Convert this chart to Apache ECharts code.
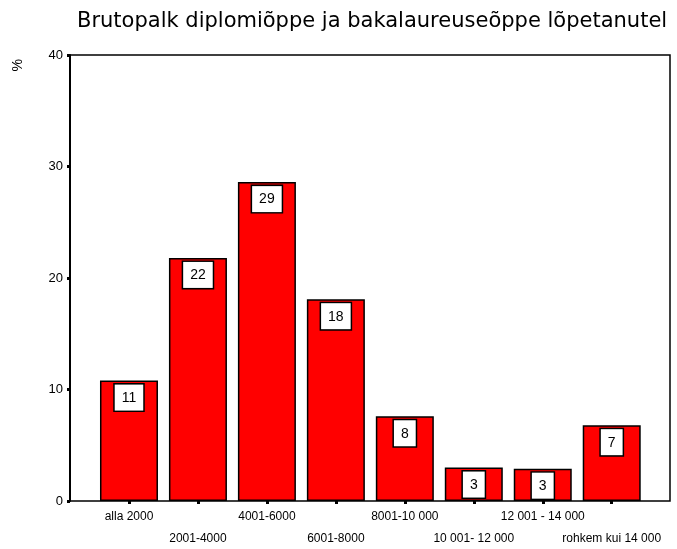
<!DOCTYPE html>
<html>
<head>
<meta charset="utf-8">
<script src="https://cdn.jsdelivr.net/npm/echarts@6/dist/echarts.min.js"></script>
<style>html,body{margin:0;padding:0;background:#fff;}#c{width:677px;height:549px;}</style>
</head>
<body>
<div id="c"></div>
<script>
var titleText = 'Brutopalk diplomiõppe ja bakalaureuseõppe lõpetanutel';
var yName = '%';
var categories = ['alla 2000', '2001-4000', '4001-6000', '6001-8000', '8001-10 000', '10 001- 12 000', '12 001 - 14 000', 'rohkem kui 14 000'];
var values = [10.8, 21.8, 28.6, 18.1, 7.6, 3.0, 2.9, 6.8];
var yTicks = [0, 10, 20, 30, 40];

var chart = echarts.init(document.getElementById('c'), null, {renderer: 'canvas'});
var font = 'Liberation Sans';
chart.setOption({
  animation: false,
  backgroundColor: '#fff',
  title: {
    text: titleText, left: 72, top: 6,
    textStyle: {fontFamily: 'DejaVu Sans', fontSize: 21, fontWeight: 'normal', color: '#000'}
  },
  graphic: [{
    type: 'text', left: 11, top: 59, rotation: Math.PI / 2,
    style: {text: yName, fontFamily: font, fontSize: 14, fill: '#000'}
  }],
  grid: [
    {left: 70, right: 7, top: 55, bottom: 48, show: true, borderColor: '#000', borderWidth: 1.5, backgroundColor: 'transparent', outerBoundsMode: 'none', containLabel: false},
    {left: 94.5, right: 30.8, top: 55, bottom: 48, outerBoundsMode: 'none', containLabel: false}
  ],
  xAxis: [
    {gridIndex: 0, type: 'value', show: false, min: 0, max: 1},
    {gridIndex: 1, type: 'category', data: categories,
     axisLine: {show: false},
     axisTick: {show: true, alignWithLabel: true, length: 3, lineStyle: {color: '#000', width: 3}},
     axisLabel: {interval: 0, margin: 5, fontFamily: font, fontSize: 12, color: '#000', lineHeight: 22,
       formatter: function (v, i) { return i % 2 ? '\n' + v : v; }}
    }
  ],
  yAxis: [
    {gridIndex: 0, type: 'value', min: yTicks[0], max: yTicks[yTicks.length - 1], interval: 10,
     axisLine: {show: true, lineStyle: {color: '#000', width: 2}},
     axisTick: {show: true, length: 3, lineStyle: {color: '#000', width: 3}},
     splitLine: {show: false},
     axisLabel: {margin: 7, fontFamily: font, fontSize: 13, color: '#000'}
    },
    {gridIndex: 1, type: 'value', min: 0, max: 40, show: false, splitLine: {show: false}}
  ],
  series: [{
    type: 'bar', xAxisIndex: 1, yAxisIndex: 1, data: values, barWidth: 58,
    itemStyle: {color: '#ff0000', borderColor: '#000', borderWidth: 1.5},
    label: {show: true, position: 'insideTop', distance: 4,
      formatter: function (p) { return Math.round(p.value); },
      backgroundColor: '#fff', borderColor: '#000', borderWidth: 1.5,
      padding: [6, 7, 5, 7], fontFamily: font, fontSize: 14, color: '#000', lineHeight: 15}
  }]
});
</script>
</body>
</html>
